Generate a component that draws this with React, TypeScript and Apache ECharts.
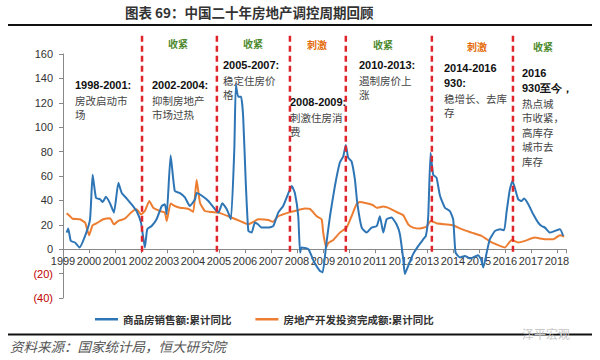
import React, { useEffect, useRef } from "react";
import * as echarts from "echarts";

// 商品房销售额:累计同比 (decimal year, %)
const salesData: [number, number][] = [
  [1999.14, 13.6], [1999.2, 17], [1999.3, 6.8], [1999.46, 5.5], [1999.63, 1.4], [1999.85, 11],
  [2000.04, 24.5], [2000.14, 61], [2000.27, 42], [2000.42, 41], [2000.53, 38.7], [2000.65, 43],
  [2000.8, 38], [2000.96, 30], [2001.13, 54.5], [2001.26, 46], [2001.45, 41.5], [2001.64, 36.8],
  [2001.83, 31.3], [2002.0, 21.8], [2002.15, 1.4], [2002.24, 16.4], [2002.41, 19], [2002.6, 24.5],
  [2002.8, 35.4], [2002.92, 36.8], [2002.99, 28.6], [2003.14, 77], [2003.3, 47.7], [2003.5, 46],
  [2003.69, 42.5], [2003.88, 35.4], [2004.08, 41], [2004.14, 46], [2004.33, 44], [2004.59, 39.5],
  [2004.85, 32.7], [2004.98, 30], [2005.13, 37.6], [2005.3, 32.7], [2005.46, 24.5], [2005.59, 81.8],
  [2005.65, 135], [2005.74, 125], [2005.85, 125], [2005.93, 109], [2006.03, 55], [2006.13, 15],
  [2006.26, 13.6], [2006.38, 21.8], [2006.5, 20.4], [2006.64, 17.7], [2006.9, 17.7], [2007.09, 19],
  [2007.28, 30], [2007.47, 35.4], [2007.67, 46], [2007.8, 51.8], [2007.92, 46], [2008.05, 27],
  [2008.12, -2.7], [2008.18, 1.4], [2008.44, 0], [2008.66, -10.5], [2008.88, -17.7], [2008.99, -19],
  [2009.12, 2.7], [2009.27, 27], [2009.46, 51.8], [2009.65, 71], [2009.78, 76], [2009.88, 85.5],
  [2009.97, 75], [2010.1, 72], [2010.23, 57], [2010.32, 38], [2010.49, 17.7], [2010.68, 13.6],
  [2010.87, 17.7], [2011.07, 19], [2011.19, 27], [2011.32, 13.6], [2011.45, 24.5], [2011.64, 26],
  [2011.83, 20.4], [2011.96, 12.3], [2012.09, -8.2], [2012.15, -20.4], [2012.28, -13.6], [2012.47, -4],
  [2012.67, 2.7], [2012.86, 8.2], [2012.96, 11], [2013.05, 27], [2013.14, 79], [2013.24, 61],
  [2013.37, 58.6], [2013.5, 44], [2013.69, 34], [2013.88, 31.3], [2014.01, 24.5], [2014.1, -2.7],
  [2014.27, -6.8], [2014.46, -5.5], [2014.65, -7.6], [2014.85, -6], [2014.97, -4.9], [2015.08, -8.2],
  [2015.17, -15], [2015.3, -2.7], [2015.42, 8.2], [2015.62, 15], [2015.81, 16.4], [2015.97, 15.5],
  [2016.06, 30], [2016.19, 49], [2016.29, 56], [2016.38, 50.4], [2016.51, 41], [2016.64, 39.5],
  [2016.74, 41.5], [2016.9, 36.8], [2017.09, 28.6], [2017.28, 21.8], [2017.41, 19], [2017.54, 17.7],
  [2017.73, 13.6], [2017.92, 15], [2018.12, 16.4], [2018.24, 11],
];

// 房地产开发投资完成额:累计同比 (decimal year, %)
const investData: [number, number][] = [
  [1999.14, 29.4], [1999.27, 27], [1999.37, 25], [1999.65, 24.5], [1999.85, 21.8], [2000.0, 11.5],
  [2000.14, 19.6], [2000.3, 21.3], [2000.55, 24.5], [2000.81, 25.3], [2000.96, 20.4], [2001.13, 23.2],
  [2001.38, 25], [2001.64, 30.5], [2001.83, 32.7], [2002.0, 28.6], [2002.15, 31.3], [2002.32, 39.5],
  [2002.47, 34], [2002.73, 31.3], [2002.92, 30], [2002.99, 23.2], [2003.14, 37.4], [2003.3, 35.4],
  [2003.5, 34], [2003.69, 33.5], [2003.86, 32.7], [2004.01, 30.5], [2004.14, 57], [2004.27, 38],
  [2004.46, 31.3], [2004.72, 30.5], [2004.98, 30], [2005.36, 27], [2005.74, 23.7], [2006.13, 20.4],
  [2006.32, 22.4], [2006.51, 24.5], [2006.9, 24], [2007.07, 22.4], [2007.28, 27], [2007.67, 30],
  [2007.92, 31.3], [2008.31, 33.3], [2008.5, 33], [2008.76, 27], [2008.95, 24.5], [2009.01, 13.6],
  [2009.12, 1.4], [2009.2, 4.9], [2009.4, 7.6], [2009.65, 13.6], [2009.91, 17.7], [2010.1, 27],
  [2010.29, 36.8], [2010.42, 38.7], [2010.68, 37.6], [2010.93, 36], [2011.07, 34], [2011.32, 34.9],
  [2011.58, 33.3], [2011.83, 30.5], [2012.09, 27.8], [2012.28, 20.4], [2012.47, 17.7], [2012.73, 16.9],
  [2012.99, 18.5], [2013.14, 23.2], [2013.37, 21.3], [2013.69, 20.4], [2014.01, 19.6], [2014.33, 16.4],
  [2014.72, 13.6], [2015.1, 10.9], [2015.49, 5.5], [2015.81, 2.7], [2016.0, 1.4], [2016.26, 7.6],
  [2016.51, 5.5], [2016.77, 6.8], [2017.15, 9.5], [2017.54, 8.2], [2017.86, 8.2], [2018.12, 11.5],
  [2018.28, 10.4],
];

// policy turning points (decimal year)
const cycleBreaks: number[] = [2002.04, 2004.92, 2007.73, 2009.88, 2013.19, 2016.31];
const breakSpan: [number, number] = [-2, 178];

const seriesNames = ["商品房销售额:累计同比", "房地产开发投资完成额:累计同比"];

const phaseLabels: { text: string; kind: string }[] = [
  { text: "收紧", kind: "tight" },
  { text: "收紧", kind: "tight" },
  { text: "刺激", kind: "stim" },
  { text: "收紧", kind: "tight" },
  { text: "刺激", kind: "stim" },
  { text: "收紧", kind: "tight" },
];

const annotations: { head: string[]; body: string[] }[] = [
  { head: ["1998-2001:"], body: ["房改启动市", "场"] },
  { head: ["2002-2004:"], body: ["抑制房地产", "市场过热"] },
  { head: ["2005-2007:"], body: ["稳定住房价", "格"] },
  { head: ["2008-2009:"], body: ["刺激住房消", "费"] },
  { head: ["2010-2013:"], body: ["遏制房价上", "涨"] },
  { head: ["2014-2016", "930:"], body: ["稳增长、去库", "存"] },
  { head: ["2016", "930至今，"], body: ["热点城", "市收紧，", "高库存", "城市去", "库存"] },
];

// layout (pixels)
const phasePos: [number, number][] = [[178, 43], [253, 43], [317, 44], [383, 44], [477, 46], [543, 46]];
const annPos: [number, number][] = [[75, 85], [152, 85], [223, 65], [290, 102], [359, 65], [444, 68], [522, 73]];

const CJK = '"Noto Sans CJK SC", "Noto Sans", sans-serif';
const LAT = '"Liberation Sans", Arial, sans-serif';

const GRID_TOP = 54;
const GRID_H = 244;
const Y_MIN = -40;
const Y_MAX = 160;
const X_MIN = 1999;
const X_MAX = 2018.35;

export default function App() {
  const ref = useRef<HTMLDivElement>(null);
  useEffect(() => {
    if (!ref.current) return;
    const chart = echarts.init(ref.current, undefined, { renderer: "svg" });

    const graphics: any[] = [
      {
        type: "text",
        left: 125,
        top: 5,
        style: { text: "图表 69：中国二十年房地产调控周期回顾", font: `bold 13.5px ${CJK}`, fill: "#333" },
      },
      { type: "rect", shape: { x: 8, y: 24, width: 584, height: 2 }, style: { fill: "#111" } },
      { type: "rect", shape: { x: 8, y: 333.5, width: 584, height: 2 }, style: { fill: "#111" } },
      {
        type: "text",
        left: 10,
        top: 339,
        style: { text: "资料来源：国家统计局，恒大研究院", font: `italic 13.5px ${CJK}`, fill: "#555" },
      },
      {
        type: "text",
        left: 522,
        top: 327,
        style: { text: "泽平宏观", font: `12px ${CJK}`, fill: "#c8c8c8" },
      },
    ];

    phaseLabels.forEach((p, i) => {
      graphics.push({
        type: "text",
        x: phasePos[i][0],
        y: phasePos[i][1],
        style: {
          text: p.text,
          font: `bold 10px ${CJK}`,
          fill: p.kind === "tight" ? "#4e8a2e" : "#e46c0a",
          align: "center",
          verticalAlign: "middle",
        },
      });
    });

    annotations.forEach((a, i) => {
      const [x, y] = annPos[i];
      let yy = y;
      a.head.forEach((h) => {
        graphics.push({
          type: "text",
          x,
          y: yy,
          style: { text: h, font: `bold 11px ${LAT}`, fill: "#111", verticalAlign: "middle" },
        });
        yy += 15;
      });
      a.body.forEach((b) => {
        graphics.push({
          type: "text",
          x,
          y: yy,
          style: { text: b, font: `10.5px ${CJK}`, fill: "#444", verticalAlign: "middle" },
        });
        yy += 14.5;
      });
    });

    const breakSeries = cycleBreaks.map((bx) => ({
      type: "line",
      name: "break",
      data: [[bx, breakSpan[0]], [bx, breakSpan[1]]],
      clip: false,
      symbol: "none",
      silent: true,
      z: 5,
      lineStyle: { color: "#e0242b", width: 2.5, type: [6, 4] },
    }));

    // pixel position of the zero line, to place the labelled x axis there
    const zeroY = GRID_TOP + (GRID_H * Y_MAX) / (Y_MAX - Y_MIN);

    chart.setOption({
      animation: false,
      backgroundColor: "#fff",
      grid: [
        { left: 63, right: 34, top: GRID_TOP, height: GRID_H, containLabel: false },
        { left: 63, right: 34, top: zeroY - 1, height: 1, containLabel: false },
      ],
      legend: {
        data: seriesNames,
        left: 90,
        top: 309,
        icon: "rect",
        itemWidth: 23,
        itemHeight: 2.5,
        itemGap: 24,
        textStyle: { fontSize: 10.5, fontWeight: "bold", color: "#333", fontFamily: CJK },
      },
      xAxis: [
        {
          type: "value",
          gridIndex: 0,
          min: X_MIN,
          max: X_MAX,
          interval: 1,
          show: false,
          splitLine: { show: false },
        },
        {
          type: "value",
          gridIndex: 1,
          position: "bottom",
          min: X_MIN,
          max: X_MAX,
          interval: 1,
          splitLine: { show: false },
          axisLine: { onZero: false, lineStyle: { color: "#888", width: 1 } },
          axisTick: { show: true, length: 4, lineStyle: { color: "#888" } },
          axisLabel: {
            margin: 6,
            fontSize: 11,
            color: "#333",
            fontFamily: LAT,
            hideOverlap: false,
            formatter: (v: number) => (Math.abs(v - Math.round(v)) < 1e-6 ? String(Math.round(v)) : ""),
          },
        },
      ],
      yAxis: [
        {
          type: "value",
          gridIndex: 0,
          min: Y_MIN,
          max: Y_MAX,
          interval: 20,
          splitLine: { show: false },
          axisLine: { show: true, onZero: false, lineStyle: { color: "#888" } },
          axisTick: { show: true, length: 4, lineStyle: { color: "#888" } },
          axisLabel: {
            margin: 10,
            fontSize: 11,
            fontFamily: LAT,
            color: (v: any) => (Number(v) < 0 ? "#c00000" : "#333"),
            formatter: (v: number) => (v < 0 ? `(${-v})` : String(v)),
          },
        },
        { type: "value", gridIndex: 1, min: 0, max: 1, show: false },
      ],
      series: [
        {
          type: "line",
          name: seriesNames[0],
          data: salesData,
          symbol: "none",
          smooth: 0.15,
          z: 3,
          lineStyle: { color: "#2e75b6", width: 2 },
          itemStyle: { color: "#2e75b6" },
        },
        {
          type: "line",
          name: seriesNames[1],
          data: investData,
          symbol: "none",
          smooth: 0.15,
          z: 2,
          lineStyle: { color: "#ed7d31", width: 2 },
          itemStyle: { color: "#ed7d31" },
        },
        ...breakSeries,
      ],
      graphic: graphics,
    });
    return () => chart.dispose();
  }, []);
  return (
    <div
      ref={ref}
      style={{ position: "absolute", left: 0, top: 0, width: 600, height: 360, background: "#fff" }}
    />
  );
}
